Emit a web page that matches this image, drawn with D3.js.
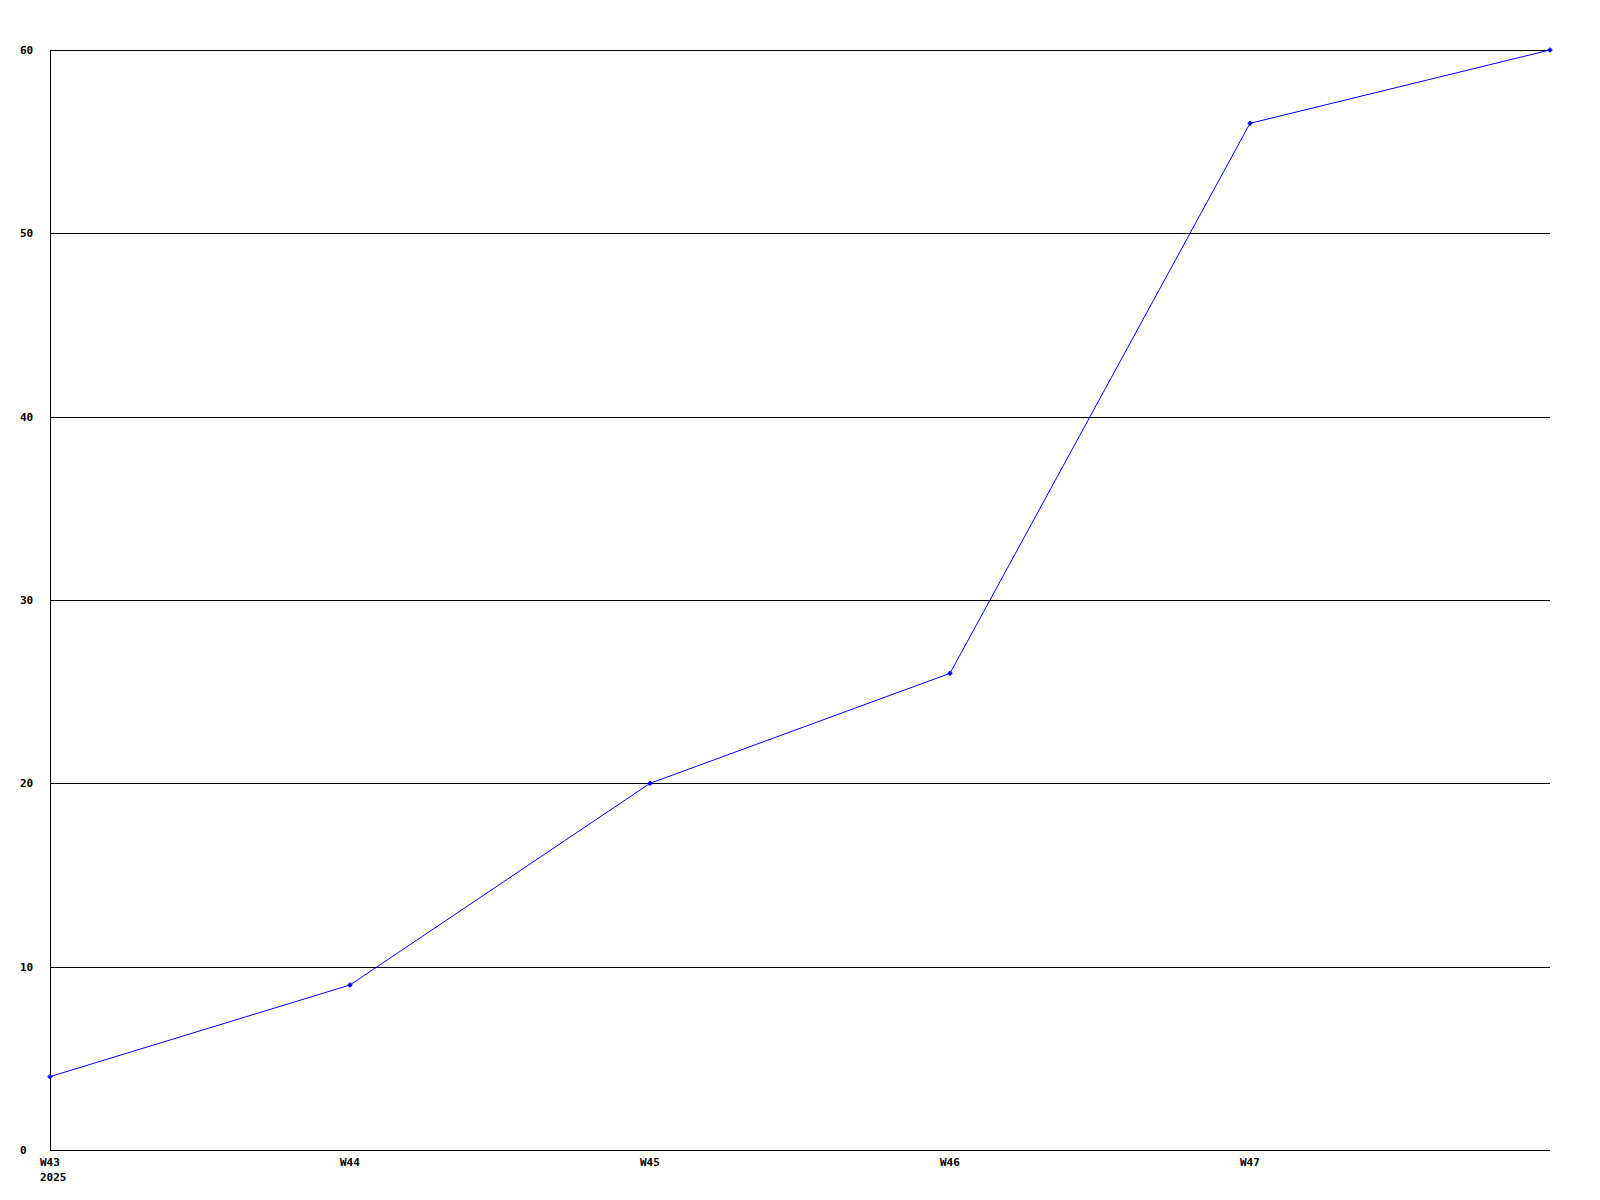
<!DOCTYPE html>
<html>
<head>
<meta charset="utf-8">
<script src="https://cdn.jsdelivr.net/npm/d3@7"></script>
<style>
html,body{margin:0;padding:0;background:#fff;}
svg text{font-family:"DejaVu Sans Mono",monospace;font-weight:bold;font-size:11px;fill:#000;}
</style>
</head>
<body>
<svg id="chart" width="1600" height="1200"></svg>
<script>
const categories = ["W43","W44","W45","W46","W47","W48"];
const values = [4, 9, 20, 26, 56, 60];
const xTickLabels = ["W43","W44","W45","W46","W47"];
const yTicks = [0,10,20,30,40,50,60];
const yearLabel = "2025";

const svg = d3.select("#chart");
const mLeft = 50, mRight = 1550, mTop = 50, mBottom = 1150;

const x = d3.scalePoint().domain(categories).range([mLeft, mRight]);
const y = d3.scaleLinear().domain([0, 60]).range([mBottom, mTop]);

// grid lines
svg.append("g").selectAll("line").data(yTicks).join("line")
  .attr("x1", mLeft).attr("x2", mRight)
  .attr("y1", d => Math.round(y(d)) + 0.5).attr("y2", d => Math.round(y(d)) + 0.5)
  .attr("stroke", "#000").attr("stroke-width", 1).attr("shape-rendering", "crispEdges");

// left axis line
svg.append("line")
  .attr("x1", mLeft + 0.5).attr("x2", mLeft + 0.5)
  .attr("y1", mTop).attr("y2", mBottom + 1)
  .attr("stroke", "#000").attr("stroke-width", 1).attr("shape-rendering", "crispEdges");

// y labels
svg.append("g").selectAll("text").data(yTicks).join("text")
  .attr("x", 20).attr("y", d => y(d)).attr("dy", "0.35em")
  .text(d => d);

// x labels
svg.append("g").selectAll("text").data(xTickLabels).join("text")
  .attr("x", d => x(d) - 10).attr("y", mBottom + 16)
  .text(d => d);
svg.append("text").attr("x", x(categories[0]) - 10).attr("y", mBottom + 31).text(yearLabel);

// line
const data = categories.map((c, i) => ({c, v: values[i]}));
svg.append("path").datum(data)
  .attr("fill", "none").attr("stroke", "#0000ff").attr("stroke-width", 1)
  .attr("d", d3.line().x(d => x(d.c)).y(d => y(d.v)));

// markers
svg.append("g").selectAll("path").data(data).join("path")
  .attr("transform", d => `translate(${x(d.c)},${y(d.v)})`)
  .attr("d", "M-2.5,0L0,-2.5L2.5,0L0,2.5Z")
  .attr("fill", "#0000ff").attr("stroke", "#0000ff").attr("stroke-width", 0.5);
</script>
</body>
</html>
